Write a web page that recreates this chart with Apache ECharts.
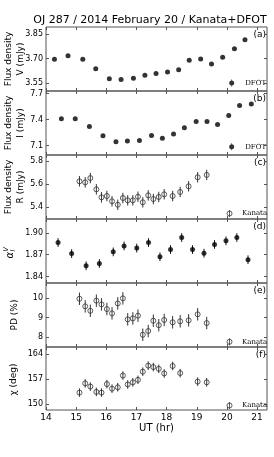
<!DOCTYPE html>
<html><head><meta charset="utf-8">
<script src="https://cdn.jsdelivr.net/npm/echarts@6/dist/echarts.min.js"></script>
<style>html,body{margin:0;padding:0;background:#fff}#c{width:274px;height:457px}</style>
</head><body><div id="c"></div>
<script>
// ---------------- data ----------------
const xTicks = [14, 15, 16, 17, 18, 19, 20, 21];

// (a) DFOT V flux
const vTime = [14.28, 14.73, 15.22, 15.65, 16.10, 16.49, 16.90, 17.28, 17.65, 18.03, 18.40, 18.75, 19.13, 19.49, 19.86, 20.25, 20.60];
const vFlux = [3.696, 3.717, 3.696, 3.637, 3.576, 3.571, 3.578, 3.597, 3.608, 3.617, 3.631, 3.690, 3.698, 3.666, 3.708, 3.761, 3.816];
const vTicks = [3.55, 3.70, 3.85];

// (b) DFOT I flux
const iTime = [14.51, 14.97, 15.44, 15.89, 16.32, 16.70, 17.10, 17.50, 17.86, 18.23, 18.59, 18.98, 19.34, 19.69, 20.06, 20.42, 20.81];
const iFlux = [7.408, 7.408, 7.319, 7.212, 7.143, 7.151, 7.158, 7.215, 7.185, 7.232, 7.304, 7.377, 7.377, 7.342, 7.446, 7.562, 7.581];
const iTicks = [7.1, 7.4, 7.7];

// (c) Kanata R flux
const kTime = [15.11, 15.30, 15.47, 15.67, 15.84, 16.02, 16.19, 16.38, 16.55, 16.71, 16.88, 17.05, 17.21, 17.39, 17.56, 17.74, 17.92, 18.20, 18.45, 18.73, 19.03, 19.33];
const rFlux = [5.625, 5.616, 5.653, 5.556, 5.487, 5.498, 5.453, 5.423, 5.481, 5.461, 5.461, 5.492, 5.444, 5.504, 5.472, 5.490, 5.513, 5.498, 5.533, 5.582, 5.660, 5.680];
const rErr  = [0.045, 0.045, 0.045, 0.045, 0.045, 0.045, 0.045, 0.045, 0.045, 0.045, 0.045, 0.045, 0.045, 0.045, 0.045, 0.045, 0.045, 0.045, 0.045, 0.045, 0.045, 0.045];
const rTicks = [5.4, 5.6, 5.8];

// (d) spectral index alpha_I^V
const aTime = [14.40, 14.85, 15.33, 15.77, 16.23, 16.59, 17.01, 17.40, 17.78, 18.13, 18.50, 18.86, 19.24, 19.59, 19.97, 20.33, 20.70];
const alpha = [1.8866, 1.8715, 1.8546, 1.8578, 1.8738, 1.8820, 1.8790, 1.8866, 1.8670, 1.8770, 1.8935, 1.8770, 1.8720, 1.8840, 1.8890, 1.8935, 1.8630];
const aErr  = [0.006, 0.006, 0.006, 0.006, 0.006, 0.006, 0.006, 0.006, 0.006, 0.006, 0.006, 0.006, 0.006, 0.006, 0.006, 0.006, 0.006];
const aTicks = [1.84, 1.87, 1.90];

// (e) Kanata polarization degree
const pd    = [9.97, 9.58, 9.35, 9.87, 9.68, 9.44, 9.22, 9.73, 9.99, 8.91, 8.96, 9.10, 8.12, 8.31, 8.84, 8.61, 8.88, 8.76, 8.81, 8.86, 9.17, 8.72];
const pdErr = [0.32, 0.32, 0.32, 0.32, 0.32, 0.32, 0.32, 0.32, 0.32, 0.32, 0.32, 0.32, 0.32, 0.32, 0.32, 0.32, 0.32, 0.32, 0.32, 0.32, 0.32, 0.32];
const pdTicks = [8, 9, 10];

// (f) Kanata polarization angle
const chiTime = [15.11, 15.30, 15.47, 15.67, 15.84, 16.02, 16.19, 16.38, 16.55, 16.71, 16.88, 17.05, 17.21, 17.39, 17.56, 17.74, 17.92, 18.20, 18.45, 19.03, 19.33];
const chi     = [153.2, 155.8, 154.9, 153.4, 153.2, 155.6, 154.3, 154.7, 158.0, 155.5, 156.1, 156.8, 159.1, 160.8, 160.4, 159.9, 158.6, 160.7, 158.7, 156.3, 156.1];
const chiErr  = [1.2, 1.2, 1.2, 1.2, 1.2, 1.2, 1.2, 1.2, 1.2, 1.2, 1.2, 1.2, 1.2, 1.2, 1.2, 1.2, 1.2, 1.2, 1.2, 1.2, 1.2];
const chiTicks = [150, 157, 164];

// ---------------- layout ----------------
const FONT = 'DejaVu Sans';
const FRAME = '#555';
const panels = [
  {top: 27,  height: 64, min: 3.50, max: 3.895, ticks: vTicks,   dec: 2, letter: '(a)'},
  {top: 91,  height: 64, min: 6.99, max: 7.73,  ticks: iTicks,   dec: 1, letter: '(b)'},
  {top: 155, height: 64, min: 5.30, max: 5.852, ticks: rTicks,   dec: 1, letter: '(c)'},
  {top: 219, height: 64, min: 1.831, max: 1.919, ticks: aTicks,  dec: 2, letter: '(d)'},
  {top: 283, height: 64, min: 7.49, max: 10.78, ticks: pdTicks,  dec: 0, letter: '(e)'},
  {top: 347, height: 63, min: 148.3, max: 166.05, ticks: chiTicks, dec: 0, letter: '(f)'}
];
const LEFT = 46, WIDTH = 221;

const grids = [], xAxes = [], yAxes = [];
panels.forEach((p, k) => {
  grids.push({left: LEFT, top: p.top, width: WIDTH, height: p.height, show: true,
    borderColor: FRAME, borderWidth: 1, backgroundColor: 'transparent'});
  const last = k === panels.length - 1;
  ['bottom', 'top'].forEach(pos => {
    xAxes.push({type: 'value', gridIndex: k, min: 14, max: 21.33, position: pos,
      axisLine: {show: false}, splitLine: {show: false},
      axisTick: {show: true, inside: true, length: 3, customValues: xTicks, lineStyle: {color: FRAME, width: 1}},
      axisLabel: {show: last && pos === 'bottom', customValues: xTicks, margin: 3,
        fontFamily: FONT, fontSize: 9, color: '#000'},
      name: (last && pos === 'bottom') ? 'UT (hr)' : '', nameLocation: 'middle', nameGap: 13,
      nameTextStyle: {fontFamily: FONT, fontSize: 10, color: '#000'}
    });
  });
  ['left', 'right'].forEach(pos => {
    yAxes.push({type: 'value', gridIndex: k, min: p.min, max: p.max, position: pos,
      axisLine: {show: false}, splitLine: {show: false},
      axisTick: {show: true, inside: true, length: 3, customValues: p.ticks, lineStyle: {color: FRAME, width: 1}},
      axisLabel: {show: pos === 'left', customValues: p.ticks, margin: 3,
        fontFamily: FONT, fontSize: 8, color: '#000',
        formatter: v => v.toFixed(p.dec)}
    });
  });
});

function errSeries(k, times, vals, errs, color) {
  return {type: 'custom', xAxisIndex: 2 * k, yAxisIndex: 2 * k, silent: true, z: 1,
    name: 'err' + k,
    data: times.map((t, i) => [t, vals[i] - errs[i], vals[i] + errs[i]]),
    encode: {x: 0, y: [1, 2]},
    renderItem: (params, api) => {
      const p1 = api.coord([api.value(0), api.value(1)]);
      const p2 = api.coord([api.value(0), api.value(2)]);
      return {type: 'line', shape: {x1: p1[0], y1: p1[1], x2: p2[0], y2: p2[1]},
        style: {stroke: color, lineWidth: 1}};
    }
  };
}
function filled(k, name, times, vals) {
  return {type: 'scatter', name, xAxisIndex: 2 * k, yAxisIndex: 2 * k, silent: true, z: 3,
    symbol: 'circle', symbolSize: 5, itemStyle: {color: '#000'},
    data: times.map((t, i) => [t, vals[i]])};
}
function open(k, name, times, vals) {
  return {type: 'scatter', name, xAxisIndex: 2 * k, yAxisIndex: 2 * k, silent: true, z: 3,
    symbol: 'circle', symbolSize: 5,
    itemStyle: {color: 'rgba(0,0,0,0)', borderColor: '#333', borderWidth: 1},
    data: times.map((t, i) => [t, vals[i]])};
}

const series = [
  filled(0, 'DFOT', vTime, vFlux),
  filled(1, 'DFOT', iTime, iFlux),
  errSeries(2, kTime, rFlux, rErr, '#333'),
  open(2, 'Kanata', kTime, rFlux),
  errSeries(3, aTime, alpha, aErr, '#111'),
  filled(3, 'alpha', aTime, alpha),
  errSeries(4, kTime, pd, pdErr, '#333'),
  open(4, 'Kanata', kTime, pd),
  errSeries(5, chiTime, chi, chiErr, '#333'),
  open(5, 'Kanata', chiTime, chi)
];

const dfotIcon = 'path://M2.1,0H2.9V7H2.1Z M2.5,1A2.5,2.5 0 1,1 2.5,6A2.5,2.5 0 1,1 2.5,1Z';
const kanIcon = 'path://M2.5,0V7 M2.5,1A2.5,2.5 0 1,1 2.5,6A2.5,2.5 0 1,1 2.5,1Z';
function legendAt(left, top, name, icon, itemStyle, padLeft) {
  return {left, top, padding: 0, itemWidth: 5, itemHeight: 7, selectedMode: false,
    data: [{name, icon, itemStyle}],
    textStyle: {fontFamily: 'DejaVu Serif', fontSize: 7, color: '#000', padding: [0, 0, 0, padLeft]}};
}
const legends = [
  legendAt(229.2, 79.5, 'DFOT', dfotIcon, {color: '#000'}, 6),
  legendAt(229.2, 143.2, 'DFOT', dfotIcon, {color: '#000'}, 6),
  legendAt(224.5, 207.5, 'Kanata', kanIcon, {color: 'none', borderColor: '#333', borderWidth: 1}, 5),
  legendAt(224.5, 335.8, 'Kanata', kanIcon, {color: 'none', borderColor: '#333', borderWidth: 1}, 5),
  legendAt(224.5, 399.5, 'Kanata', kanIcon, {color: 'none', borderColor: '#333', borderWidth: 1}, 5)
];

const graphics = [];
function txt(x, y, text, size, opts) {
  graphics.push(Object.assign({type: 'text', x, y, silent: true,
    style: Object.assign({text, fontFamily: FONT, fontSize: size, fill: '#000',
      textAlign: 'center', textVerticalAlign: 'middle'}, (opts && opts.style) || {})},
    opts && opts.el || {}));
}
// title
txt(150, 20, 'OJ 287 / 2014 February 20 / Kanata+DFOT', 11);
// panel letters
panels.forEach(p => txt(266, p.top + 7.5, p.letter, 9, {style: {textAlign: 'right'}}));
// y-axis titles
const ROT = {rotation: Math.PI / 2};
const yLabelCenters = panels.map(p => p.top + p.height / 2);
txt(9, yLabelCenters[0], 'Flux density', 9, {el: ROT});
txt(20.5, yLabelCenters[0], 'V (mJy)', 9, {el: ROT});
txt(9, yLabelCenters[1], 'Flux density', 9, {el: ROT});
txt(20.5, yLabelCenters[1], 'I (mJy)', 9, {el: ROT});
txt(9, yLabelCenters[2], 'Flux density', 9, {el: ROT});
txt(20.5, yLabelCenters[2], 'R (mJy)', 9, {el: ROT});
txt(15, yLabelCenters[4], 'PD (%)', 9, {el: ROT});
txt(13.5, yLabelCenters[5] + 1, 'χ (deg)', 9, {el: ROT});
// alpha_I^V
graphics.push({type: 'group', x: 10.5, y: 252, rotation: Math.PI / 2, silent: true, children: [
  {type: 'text', x: 0, y: 0, style: {text: 'α', fontFamily: FONT, fontStyle: 'italic', fontSize: 10, fill: '#000', textAlign: 'right', textVerticalAlign: 'middle'}},
  {type: 'text', x: 0.5, y: 3, style: {text: 'I', fontFamily: FONT, fontStyle: 'italic', fontSize: 6.5, fill: '#000', textAlign: 'left', textVerticalAlign: 'middle'}},
  {type: 'text', x: 0.5, y: -4, style: {text: 'V', fontFamily: FONT, fontStyle: 'italic', fontSize: 6.5, fill: '#000', textAlign: 'left', textVerticalAlign: 'middle'}}
]});

const chart = echarts.init(document.getElementById('c'), null, {renderer: 'canvas'});
chart.setOption({
  animation: false,
  backgroundColor: '#fff',
  grid: grids, xAxis: xAxes, yAxis: yAxes,
  legend: legends,
  series,
  graphic: graphics
});
</script></body></html>
